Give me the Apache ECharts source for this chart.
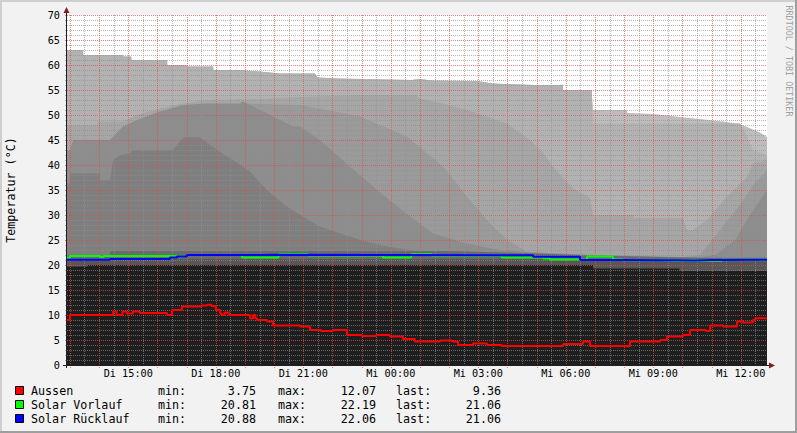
<!DOCTYPE html>
<html><head><meta charset="utf-8">
<script src="https://cdn.jsdelivr.net/npm/echarts@6.0.0/dist/echarts.min.js"></script>
<style>html,body{margin:0;padding:0;background:#F2F2F2}#c{width:797px;height:433px}</style>
</head><body><div id="c"></div>
<script>
// x values: hours since Tuesday 00:00
const xStart = 12.9, xEnd = 36.9;
const xTickHours = [15, 18, 21, 24, 27, 30, 33, 36];
const xTickLabels = ['Di 15:00','Di 18:00','Di 21:00','Mi 00:00','Mi 03:00','Mi 06:00','Mi 09:00','Mi 12:00'];
const majorGridHours = [13,14,15,16,17,18,19,20,21,22,23,24,25,26,27,28,29,30,31,32,33,34,35,36];
const minorGridHours = [13.5,14.5,15.5,16.5,17.5,18.5,19.5,20.5,21.5,22.5,23.5,24.5,25.5,26.5,27.5,28.5,29.5,30.5,31.5,32.5,33.5,34.5,35.5,36.5];

// gray storage layers (drawn lightest first)
const layer1 = [[12.9,63],[13.45,63],[13.46,62],[14.82,62],[14.83,61.7],[15.1,61.7],[15.11,61],[16.33,61],[16.34,60],[17.01,60],[17.02,59.7],[17.91,59.7],[17.92,59],[18.83,59],[19.5,58.7],[20.2,58.3],[21.4,58.3],[21.5,57.5],[22.2,57.3],[24.7,57],[25.0,57.2],[25.4,56.9],[26.96,56.8],[27.5,56.3],[28.9,56],[29.9,56],[29.91,55],[30.89,55],[30.93,51],[32.1,51],[32.11,50.4],[33.0,50.2],[33.92,49.6],[34.6,49.2],[35.39,48.7],[35.97,48.2],[36.3,47.4],[36.66,46.5],[36.9,45.6]];
const layer2 = [[12.9,63],[13.45,63],[13.46,62],[14.82,62],[14.83,61.7],[15.1,61.7],[15.11,61],[16.33,61],[16.34,60],[17.01,60],[17.02,59.7],[17.91,59.7],[17.92,59],[18.83,59],[19.5,58.7],[20.2,58.3],[21.4,58.3],[21.5,57.5],[22.2,57.3],[24.7,57],[25.0,57.2],[25.4,56.9],[26.96,56.8],[27.5,56.3],[28.9,56],[29.9,56],[29.91,55],[30.89,55],[30.93,48.3],[35.97,48.3],[36.2,46],[36.42,43],[36.9,42]];
const layer3 = [[12.9,48],[13.93,48],[13.94,48.7],[14.82,48.7],[15.3,50],[16.09,51.3],[16.88,52.3],[17.7,53],[19.5,53.2],[20.89,53.6],[21.8,53.8],[23.19,54],[24.9,54],[24.91,53.4],[25.79,52.3],[26.61,51],[27.99,48.3],[28.77,45],[29.22,42.5],[29.56,39.7],[30.25,35.3],[30.83,33.5],[30.93,30],[32.31,30],[32.32,29.4],[34.02,29.4],[34.16,27],[34.36,27],[34.84,29],[35.53,33.7],[36.22,37.6],[36.42,40.3],[36.9,41]];
const layer4 = [[12.9,42],[18.8,50],[18.93,52.3],[20.89,52],[22.95,49.7],[24.56,45.7],[25.79,39.7],[26.61,33.7],[27.4,28.3],[27.99,25],[28.77,22.3],[29.8,22],[31.0,21.8],[33.92,21.5],[34.6,22],[35.29,27],[35.97,32],[36.42,36],[36.9,39]];
const layer5 = [[12.9,43],[13.0,43],[13.11,45],[14.37,45],[14.82,47.7],[15.3,49],[16.09,50.7],[16.88,52],[17.7,52.3],[18.83,52.3],[18.93,52.7],[19.52,51],[20.1,49.3],[20.65,47.7],[20.89,47.7],[21.57,45],[22.6,39.7],[23.53,35],[24.66,29.7],[25.45,26.3],[26.61,24.3],[27.75,23],[29.0,22.5],[31.0,22],[34.6,21.5],[35.12,22],[35.81,25],[36.32,30],[36.9,35]];
const layer6 = [[12.9,36.3],[13.0,36.3],[13.01,38.3],[14.03,38.3],[14.04,37],[14.37,37],[14.48,41],[14.72,42],[15.06,42.3],[15.16,43],[16.53,43],[16.67,44],[16.88,45.5],[17.46,45.5],[17.7,44.5],[18.04,43],[18.59,41],[19.17,38.7],[19.76,35],[20.37,32],[20.89,30],[21.57,27.7],[22.95,25],[23.87,23.7],[25.45,22.3],[28.0,22],[33.5,21.5],[36.9,21.5]];
const layer7 = [[12.9,22],[14.37,22],[14.38,22.8],[26.0,22.8],[28.5,22.4],[30.5,22],[33.9,21.5],[36.9,21.3]];
const layer8 = [[12.9,21.0],[16.4,21.0],[16.5,21.2],[30.4,21.2],[30.5,20.8],[36.9,20.7]];
const layer9 = [[12.9,19.7],[13.6,19.7],[13.61,20],[30.93,20],[30.94,19.3],[33.9,19.3],[33.91,18.8],[36.9,18.8]];
const layers = [layer1, layer2, layer3, layer4, layer5, layer6, layer7, layer8, layer9];
const layerColors = ['#BDBDBD','#B2B2B2','#A6A6A6','#9A9A9A','#8D8D8D','#7F7F7F','#6B6B6B','#575757','#1E1E1E'];

// measured lines, [time, value] held until the next time
const aussen = [[12.9,9.0],[13.0,10.0],[14.37,10.0],[14.48,10.7],[14.6,10.0],[14.8,10.7],[14.95,10.3],[15.16,10.7],[15.4,10.4],[16.33,10.0],[16.5,11.0],[16.84,11.7],[17.5,11.9],[17.7,12.07],[17.85,11.8],[18.0,11.0],[18.15,10.3],[18.2,10.0],[18.3,10.5],[18.45,10.0],[19.17,9.3],[19.28,10.0],[19.36,9.3],[19.41,9.0],[19.76,8.7],[19.96,7.9],[20.89,7.7],[21.23,7.0],[21.6,6.8],[22.02,7.0],[22.5,6.0],[23.0,5.8],[23.5,6.0],[23.97,5.7],[24.42,5.2],[24.83,4.7],[25.69,4.9],[26.1,4.7],[26.31,4.0],[26.82,4.3],[27.3,4.0],[27.8,3.8],[29.91,4.2],[30.59,4.7],[30.83,3.8],[31.8,3.75],[32.2,4.7],[33.24,5.0],[33.47,5.7],[34.02,6.0],[34.26,7.0],[34.8,6.8],[34.95,7.9],[35.39,7.7],[35.87,8.7],[36.08,8.5],[36.42,9.0],[36.5,9.36],[36.9,9.36]];
const vorlauf = [[12.9,21.5],[13.0,21.8],[14.03,21.6],[14.15,21.8],[16.43,21.7],[17.01,22.0],[18.9,21.5],[20.15,22.19],[21.16,21.9],[23.73,21.5],[24.7,22.15],[25.41,21.9],[27.81,21.5],[29.22,21.3],[29.46,21.1],[30.42,21.0],[30.73,21.7],[31.62,21.1],[31.96,20.95],[33.24,20.81],[33.81,20.9],[34.43,20.83],[35.36,21.06],[36.9,21.06]];
const ruecklauf = [[12.9,21.05],[14.37,21.2],[16.43,21.5],[16.67,21.7],[17.01,22.0],[19.5,22.06],[20.2,21.95],[28.88,21.67],[30.49,21.0],[31.96,20.88],[34.43,21.0],[35.0,21.06],[36.9,21.06]];

const legendNames = ['Aussen','Solar Vorlauf','Solar Rücklauf'];
const legendMin = ['3.75','20.81','20.88'];
const legendMax = ['12.07','22.19','22.06'];
const legendLast = ['9.36','21.06','21.06'];
const lineSeries = [aussen, vorlauf, ruecklauf];
const lineColors = ['#FF0000','#00FF00','#0000FF'];

const MONO = 'DejaVu Sans Mono';
const GRID_MINOR = 'rgba(143,143,143,0.65)';
const GRID_MAJOR = 'rgba(222,79,79,0.7)';
const series = [];
layers.forEach((d, i) => series.push({
  type:'line', data:d, symbol:'none', silent:true, z:2,
  lineStyle:{width:0, color:layerColors[i]}, areaStyle:{color:layerColors[i], opacity:1}
}));
lineSeries.forEach((d, i) => series.push({
  type:'line', step:'end', data:d, symbol:'none', silent:true, z:6,
  lineStyle:{color:lineColors[i], width:2}
}));

const option = {
  animation:false,
  backgroundColor:'#F2F2F2',
  grid:{left:67, top:15, width:700, height:350, show:true, backgroundColor:'#FFFFFF', borderWidth:0},
  xAxis:{type:'value', min:xStart, max:xEnd, z:5,
    axisLine:{show:false}, splitLine:{show:false}, axisTick:{show:false},
    axisLabel:{customValues:xTickHours, formatter:v => xTickLabels[xTickHours.indexOf(v)], fontFamily:MONO, fontSize:10.2, color:'#000', margin:3}},
  yAxis:{type:'value', min:0, max:70, interval:5, z:5,
    axisLine:{show:false},
    axisTick:{show:true, length:2, lineStyle:{color:GRID_MAJOR}},
    minorTick:{show:true, splitNumber:5, length:2, lineStyle:{color:GRID_MINOR}},
    splitLine:{show:true, lineStyle:{color:GRID_MAJOR, type:[1,1], width:1}},
    minorSplitLine:{show:true, lineStyle:{color:GRID_MINOR, type:[1,1], width:1}},
    axisLabel:{fontFamily:MONO, fontSize:10.2, color:'#000', margin:7}},
  series:series
};
const chart = echarts.init(document.getElementById('c'), null, {renderer:'svg'});
chart.setOption(option);

// vertical grid lines placed through the x axis scale
const graphic = [];
const yTop = chart.convertToPixel({yAxisIndex:0}, 70);
const yBot = chart.convertToPixel({yAxisIndex:0}, 0);
function vLine(h, color, tick) {
  const x = Math.round(chart.convertToPixel({xAxisIndex:0}, h)) + 0.5;
  graphic.push({type:'line', z:5, silent:true, shape:{x1:x, y1:yTop, x2:x, y2:yBot + tick},
    style:{stroke:color, lineWidth:1, lineDash:[1,1]}});
}
minorGridHours.forEach(h => vLine(h, GRID_MINOR, 2));
majorGridHours.forEach(h => vLine(h, GRID_MAJOR, 3));

const rowY = [391, 405, 419];
legendNames.forEach((n, i) => {
  const y = rowY[i];
  graphic.push({type:'rect', z:100, shape:{x:15.5, y:y-4.5, width:8, height:8}, style:{fill:lineColors[i], stroke:'#000', lineWidth:1}});
  const txt = (t, x, al) => graphic.push({type:'text', z:100, x:x, y:y, style:{text:t, fill:'#000', font:'11.7px "DejaVu Sans Mono"', align:al, verticalAlign:'middle', textAlign:al, textVerticalAlign:'middle'}});
  txt(n, 31, 'left');
  txt('min:', 158, 'left');
  txt(legendMin[i], 256, 'right');
  txt('max:', 278, 'left');
  txt(legendMax[i], 376, 'right');
  txt('last:', 396, 'left');
  txt(legendLast[i], 501, 'right');
});
// axis lines and arrows
graphic.push({type:'line', z:100, shape:{x1:66.5, y1:368, x2:66.5, y2:12}, style:{stroke:'#1F1F1F', lineWidth:1}});
graphic.push({type:'line', z:100, shape:{x1:63, y1:365.5, x2:769, y2:365.5}, style:{stroke:'#1F1F1F', lineWidth:1}});
graphic.push({type:'polygon', z:101, shape:{points:[[66.5,7],[63.5,13],[69.5,13]]}, style:{fill:'#801F1F'}});
graphic.push({type:'polygon', z:101, shape:{points:[[775,365.5],[769,362.5],[769,368.5]]}, style:{fill:'#801F1F'}});
// axis title & watermark
graphic.push({type:'text', z:100, x:11, y:190, rotation:Math.PI/2, style:{text:'Temperatur (°C)', fill:'#000', font:'11.7px "DejaVu Sans Mono"', align:'center', verticalAlign:'middle', textAlign:'center', textVerticalAlign:'middle'}});
graphic.push({type:'text', z:100, x:789, y:61, rotation:-Math.PI/2, style:{text:'RRDTOOL / TOBI OETIKER', fill:'#A0A0A0', font:'8.4px "DejaVu Sans Mono"', align:'center', verticalAlign:'middle', textAlign:'center', textVerticalAlign:'middle'}});
// frame shading
graphic.push({type:'rect', z:100, shape:{x:0, y:0, width:797, height:2}, style:{fill:'#CFCFCF'}});
graphic.push({type:'rect', z:100, shape:{x:0, y:0, width:2, height:433}, style:{fill:'#CFCFCF'}});
graphic.push({type:'rect', z:100, shape:{x:795, y:0, width:2, height:433}, style:{fill:'#9E9E9E'}});
graphic.push({type:'rect', z:100, shape:{x:0, y:431, width:797, height:2}, style:{fill:'#9E9E9E'}});
chart.setOption({graphic:graphic});
</script></body></html>
